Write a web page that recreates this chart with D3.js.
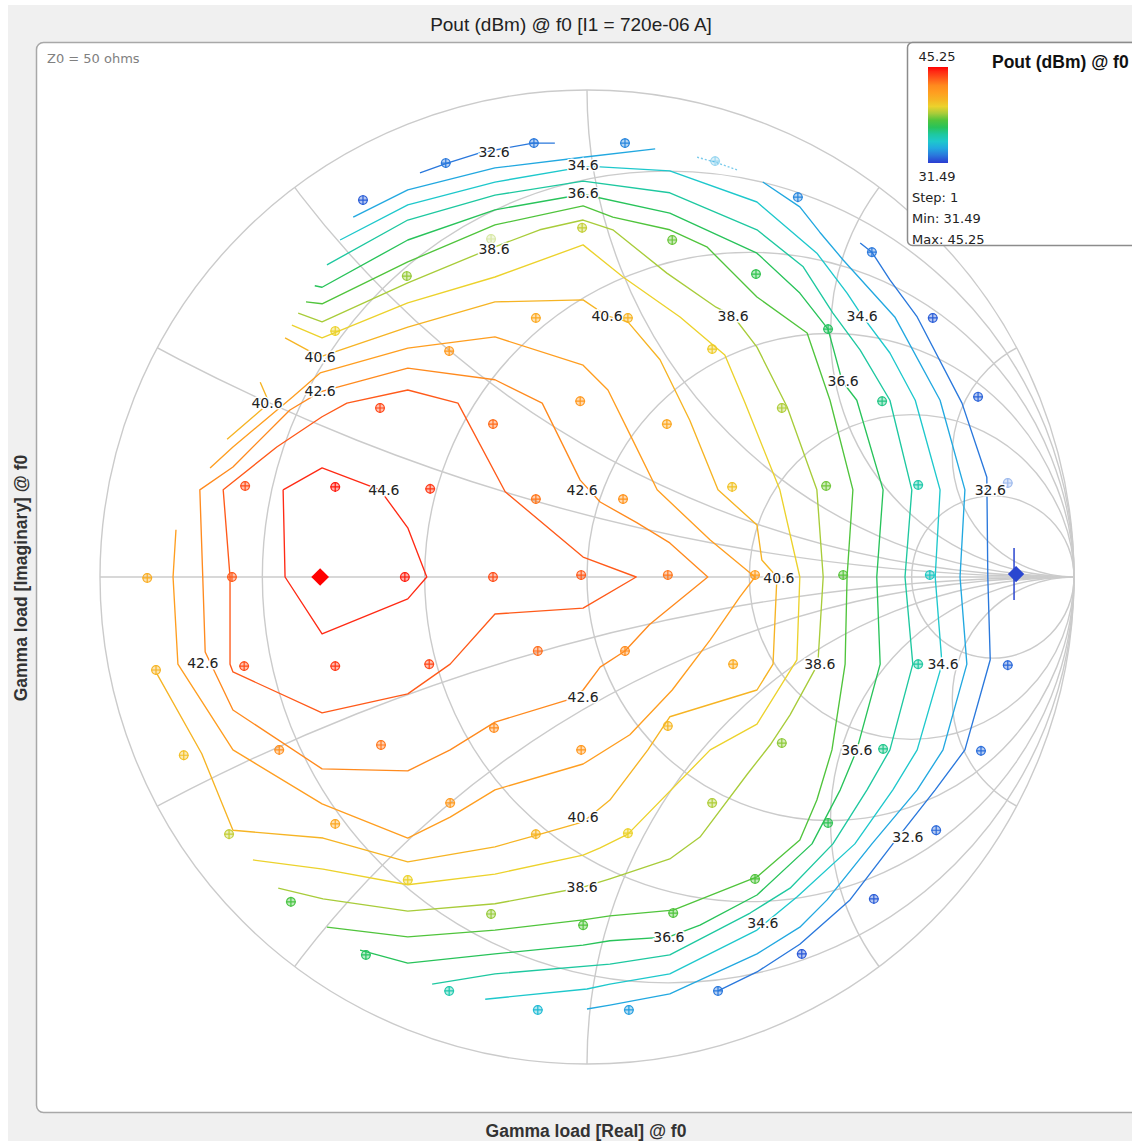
<!DOCTYPE html>
<html><head><meta charset="utf-8">
<script src="https://cdn.jsdelivr.net/npm/d3@7"></script>
<style>
html,body{margin:0;padding:0;background:#fff;}
svg{display:block;}
</style></head><body>
<svg id="chart" width="1132" height="1141"></svg>
<script>
// ---- measured load-pull points on the Gamma plane (re, im) and their output power ----
const pointRe = [-0.290,-0.109,0.078,0.263,-0.460,0.433,-0.197,-0.010,0.175,-0.370,0.347,0.585,-0.517,0.495,0.710,-0.105,0.084,0.257,-0.283,0.400,0.606,0.803,-0.425,-0.014,-0.193,0.164,-0.702,-0.517,-0.322,-0.105,0.074,0.298,0.491,0.680,0.864,-0.903,-0.729,-0.374,-0.193,-0.012,0.166,0.345,0.526,0.704,-0.885,-0.704,-0.517,-0.324,-0.101,0.078,0.300,0.680,0.864,-0.828,-0.632,-0.423,-0.191,-0.012,0.166,0.400,0.608,0.809,-0.735,-0.517,-0.281,-0.105,0.084,0.257,0.495,0.717,-0.368,-0.608,-0.197,-0.008,0.177,0.345,0.589,-0.454,-0.283,-0.101,0.086,0.269,0.441];
const pointIm = [0.850,0.891,0.891,0.854,0.774,0.780,0.694,0.717,0.692,0.618,0.622,0.667,0.505,0.509,0.532,0.532,0.532,0.468,0.464,0.347,0.361,0.370,0.347,0.361,0.314,0.314,0.187,0.185,0.181,0.160,0.160,0.185,0.187,0.189,0.193,-0.002,0,0,0,0.004,0.004,0.004,0.004,0.004,-0.191,-0.183,-0.183,-0.179,-0.152,-0.152,-0.179,-0.179,-0.181,-0.366,-0.355,-0.345,-0.310,-0.355,-0.306,-0.341,-0.353,-0.357,-0.528,-0.507,-0.464,-0.528,-0.526,-0.464,-0.505,-0.520,-0.622,-0.667,-0.692,-0.715,-0.690,-0.620,-0.661,-0.776,-0.850,-0.889,-0.889,-0.850,-0.774];
const pointPout = [32.6,32.6,32.9,33.6,32.1,32.9,38.6,39.0,37.9,38.4,36.9,32.6,39.6,36.5,32.1,41.1,40.6,39.8,41.8,38.7,36.0,32.2,44.0,41.9,43.2,41.2,43.9,44.9,44.3,43.0,42.1,40.1,38.0,35.4,32.3,40.9,43.6,44.8,43.9,43.6,43.0,41.6,37.7,34.8,40.6,43.9,44.3,44.0,43.2,42.5,41.0,35.6,32.3,40.2,42.3,43.0,42.5,41.9,40.5,38.3,35.9,32.4,39.0,41.2,41.8,40.6,39.6,38.7,36.8,32.3,39.6,37.4,38.4,37.6,37.6,37.6,32.1,36.5,35.3,34.2,33.4,32.6,32.0];
// points drawn lighter (outside the interpolated area)
const dimmedPoints = [3, 6, 34];

// optimum (max Pout) and reference load
const maxPoint = [-0.548, 0];
const refPoint = [0.881, 0.006];

// colour bar range
const poutMin = 31.49, poutMax = 45.25, poutStep = 1;
const stopPout = [31.49, 32.6, 33.6, 34.6, 35.6, 36.6, 37.6, 38.6, 39.6, 40.6, 41.6, 42.6, 43.6, 44.6, 45.25];
const stopColor = ["#2a3cd2","#2a78dc","#22a8e0","#1ec8cc","#1ec8a0","#28c35a","#50c43c","#a8cc3a","#ecd22c","#f6b424","#ff9e20","#ff8a1e","#ff5a1a","#ff2a14","#ff0000"];

// iso-Pout contour lines (Gamma coordinates)
const iso446 = [[-0.624,0.179],[-0.544,0.224],[-0.425,0.179],[-0.368,0.101],[-0.329,0],[-0.368,-0.045],[-0.544,-0.117],[-0.620,0],[-0.624,0.179]];
const iso436 = [[-0.733,0],[-0.747,0.179],[-0.637,0.267],[-0.544,0.329],[-0.493,0.357],[-0.368,0.384],[-0.265,0.357],[-0.168,0.175],[-0.008,0.041],[0.101,0],[-0.008,-0.064],[-0.189,-0.076],[-0.281,-0.179],[-0.368,-0.240],[-0.544,-0.279],[-0.727,-0.195],[-0.733,-0.179],[-0.733,0]];
const iso426 = [[-0.789,0],[-0.795,0.179],[-0.727,0.226],[-0.610,0.343],[-0.548,0.380],[-0.368,0.429],[-0.189,0.405],[-0.092,0.357],[-0.014,0.199],[0.027,0.154],[0.103,0.111],[0.170,0.070],[0.248,0],[0.129,-0.097],[0.078,-0.152],[0.027,-0.185],[-0.008,-0.232],[-0.041,-0.253],[-0.189,-0.298],[-0.281,-0.355],[-0.368,-0.398],[-0.544,-0.394],[-0.727,-0.273],[-0.784,-0.154],[-0.789,0]];
const iso416 = [[-0.774,0.224],[-0.727,0.267],[-0.604,0.370],[-0.548,0.419],[-0.368,0.470],[-0.189,0.493],[-0.008,0.435],[0.043,0.384],[0.094,0.281],[0.144,0.179],[0.253,0.076],[0.345,0],[0.314,-0.041],[0.253,-0.129],[0.175,-0.232],[0.088,-0.324],[-0.008,-0.384],[-0.189,-0.437],[-0.281,-0.493],[-0.368,-0.536],[-0.544,-0.466],[-0.727,-0.355],[-0.840,-0.179],[-0.850,0],[-0.844,0.097]];
const iso406 = [[-0.620,0.491],[-0.548,0.452],[-0.368,0.513],[-0.189,0.565],[-0.008,0.569],[0.041,0.536],[0.084,0.524],[0.150,0.446],[0.211,0.322],[0.269,0.179],[0.349,0.107],[0.359,0.035],[0.390,0],[0.386,-0.088],[0.382,-0.179],[0.349,-0.232],[0.170,-0.287],[0.125,-0.355],[0.047,-0.458],[-0.008,-0.503],[-0.103,-0.530],[-0.189,-0.554],[-0.368,-0.585],[-0.542,-0.536],[-0.727,-0.520],[-0.791,-0.363],[-0.883,-0.199]];
const iso406b = [[-0.739,0.283],[-0.667,0.345],[-0.655,0.363],[-0.671,0.400]];
const iso396 = [[-0.606,0.517],[-0.544,0.491],[-0.368,0.563],[-0.189,0.616],[-0.008,0.682],[0.074,0.616],[0.191,0.534],[0.283,0.456],[0.324,0.359],[0.396,0.179],[0.437,0],[0.431,-0.170],[0.349,-0.302],[0.253,-0.355],[0.084,-0.528],[0.027,-0.556],[-0.008,-0.571],[-0.189,-0.610],[-0.368,-0.632],[-0.542,-0.600],[-0.686,-0.581]];
const iso386 = [[-0.593,0.542],[-0.544,0.524],[-0.368,0.604],[-0.189,0.678],[-0.097,0.713],[-0.008,0.733],[0.053,0.713],[0.164,0.624],[0.265,0.554],[0.300,0.536],[0.349,0.472],[0.411,0.349],[0.472,0.179],[0.485,0],[0.474,-0.179],[0.417,-0.283],[0.376,-0.345],[0.329,-0.405],[0.232,-0.534],[0.170,-0.579],[0.047,-0.620],[-0.008,-0.637],[-0.189,-0.671],[-0.368,-0.686],[-0.542,-0.661],[-0.634,-0.639]];
const iso376 = [[-0.577,0.565],[-0.544,0.561],[-0.368,0.647],[-0.189,0.723],[-0.008,0.762],[0.053,0.739],[0.170,0.713],[0.246,0.678],[0.349,0.575],[0.452,0.501],[0.499,0.363],[0.546,0.179],[0.534,0],[0.530,-0.179],[0.503,-0.355],[0.472,-0.458],[0.437,-0.540],[0.349,-0.616],[0.177,-0.684],[0.047,-0.696],[-0.008,-0.704],[-0.189,-0.725],[-0.368,-0.739],[-0.534,-0.719]];
const iso366 = [[-0.559,0.598],[-0.544,0.595],[-0.368,0.692],[-0.189,0.754],[-0.008,0.786],[0.170,0.747],[0.349,0.665],[0.437,0.583],[0.495,0.509],[0.524,0.402],[0.554,0.363],[0.608,0.179],[0.595,0],[0.602,-0.179],[0.554,-0.355],[0.520,-0.437],[0.462,-0.548],[0.349,-0.653],[0.232,-0.715],[0.168,-0.739],[0.047,-0.747],[-0.008,-0.756],[-0.189,-0.774],[-0.368,-0.793],[-0.466,-0.766]];
const iso356 = [[-0.534,0.641],[-0.368,0.733],[-0.189,0.784],[-0.008,0.813],[0.170,0.789],[0.349,0.713],[0.444,0.637],[0.505,0.542],[0.561,0.466],[0.622,0.363],[0.667,0.179],[0.653,0],[0.669,-0.179],[0.622,-0.355],[0.575,-0.437],[0.505,-0.548],[0.417,-0.639],[0.335,-0.690],[0.170,-0.776],[0.047,-0.795],[-0.189,-0.815],[-0.318,-0.836]];
const iso346 = [[-0.507,0.692],[-0.368,0.764],[-0.189,0.811],[-0.008,0.842],[0.027,0.842],[0.170,0.834],[0.349,0.770],[0.472,0.665],[0.534,0.583],[0.565,0.536],[0.622,0.460],[0.674,0.363],[0.725,0.179],[0.715,0],[0.729,-0.179],[0.678,-0.355],[0.628,-0.437],[0.550,-0.548],[0.431,-0.657],[0.363,-0.713],[0.349,-0.725],[0.170,-0.815],[0.047,-0.836],[0,-0.846],[-0.209,-0.867]];
const iso336a = [[-0.480,0.739],[-0.368,0.795],[-0.189,0.840],[-0.008,0.862],[0.140,0.879]];
const iso336b = [[0.226,0.862],[0.263,0.852],[0.308,0.836]];
const iso336c = [[0.361,0.811],[0.437,0.760],[0.478,0.708],[0.526,0.651],[0.632,0.534],[0.725,0.363],[0.776,0.179],[0.766,0],[0.780,-0.179],[0.731,-0.355],[0.678,-0.437],[0.585,-0.548],[0.493,-0.663],[0.437,-0.719],[0.349,-0.774],[0.170,-0.856],[0.047,-0.879],[0,-0.887]];
const iso326a = [[-0.343,0.830],[-0.287,0.850],[-0.220,0.871],[-0.111,0.891],[-0.066,0.891]];
const iso326b = [[0.561,0.686],[0.585,0.667],[0.622,0.610],[0.678,0.534],[0.770,0.357],[0.821,0.205],[0.823,0],[0.828,-0.170],[0.776,-0.355],[0.715,-0.437],[0.628,-0.548],[0.540,-0.663],[0.437,-0.754],[0.349,-0.811],[0.269,-0.850]];
// [level, polyline, faint?]
const isoLines = [
  [44.6, iso446, false], [43.6, iso436, false], [42.6, iso426, false],
  [41.6, iso416, false], [40.6, iso406, false], [40.6, iso406b, false],
  [39.6, iso396, false], [38.6, iso386, false], [37.6, iso376, false],
  [36.6, iso366, false], [35.6, iso356, false], [34.6, iso346, false],
  [33.6, iso336a, false], [33.6, iso336b, true], [33.6, iso336c, false],
  [32.6, iso326a, false], [32.6, iso326b, false]
];

// contour value labels
const labelPout = [44.6,42.6,42.6,42.6,42.6,40.6,40.6,40.6,40.6,40.6,38.6,38.6,38.6,38.6,36.6,36.6,36.6,36.6,34.6,34.6,34.6,34.6,32.6,32.6,32.6];
const labelRe = [-0.417,-0.548,-0.010,-0.008,-0.789,-0.657,-0.548,0.041,0.394,-0.008,-0.191,0.300,0.478,-0.010,-0.008,0.526,0.554,0.168,-0.008,0.565,0.731,0.361,-0.191,0.828,0.659];
const labelIm = [0.179,0.382,0.179,-0.246,-0.177,0.357,0.452,0.536,-0.002,-0.493,0.674,0.536,-0.179,-0.637,0.789,0.403,-0.355,-0.739,0.846,0.536,-0.179,-0.711,0.873,0.179,-0.534];

// Smith chart grid values
const resistanceCircles = [0.2, 0.5, 1, 2, 5];
const reactanceArcs = [0.25, 0.5, 1, 2, 4];

// ---------------------------------------------------------------
const svg = d3.select("#chart");
const W = 1132, H = 1141;
const cx = 587, cy = 577, R = 487;
const x = d3.scaleLinear().domain([-1, 1]).range([cx - R, cx + R]);
const y = d3.scaleLinear().domain([-1, 1]).range([cy + R, cy - R]);
const len = v => x(v) - x(0);
const color = d3.scaleLinear().domain(stopPout).range(stopColor).clamp(true);

const sans = "'Liberation Sans', Arial, sans-serif";
const dv = "'DejaVu Sans', Verdana, sans-serif";

// page background
svg.append("rect").attr("x", 0).attr("y", 0).attr("width", W).attr("height", H).attr("fill", "#ffffff");
svg.append("rect").attr("x", 8).attr("y", 5).attr("width", W - 8).attr("height", H - 5).attr("fill", "#f0f0f0");

svg.append("text").attr("x", 571).attr("y", 31).attr("text-anchor", "middle")
  .attr("font-family", sans).attr("font-size", 19).attr("fill", "#222")
  .text("Pout (dBm) @ f0 [I1 = 720e-06 A]");

// plot panel
svg.append("rect").attr("x", 36.5).attr("y", 42.5).attr("width", 1120).attr("height", 1070)
  .attr("rx", 7).attr("fill", "#fff").attr("stroke", "#a8a8a8").attr("stroke-width", 1.5);

svg.append("text").attr("x", 47).attr("y", 63).attr("font-family", dv).attr("font-size", 13)
  .attr("fill", "#808080").text("Z0 = 50 ohms");

svg.append("text").attr("x", 586).attr("y", 1137).attr("text-anchor", "middle")
  .attr("font-family", sans).attr("font-weight", "bold").attr("font-size", 17.5).attr("fill", "#333")
  .text("Gamma load [Real] @ f0");
svg.append("text").attr("transform", "translate(27,578) rotate(-90)").attr("text-anchor", "middle")
  .attr("font-family", sans).attr("font-weight", "bold").attr("font-size", 17.5).attr("fill", "#333")
  .text("Gamma load [Imaginary] @ f0");

// ---- Smith chart grid ----
const defs = svg.append("defs");
defs.append("clipPath").attr("id", "unit").append("circle")
  .attr("cx", x(0)).attr("cy", y(0)).attr("r", len(1));
const grid = svg.append("g").attr("fill", "none").attr("stroke", "#cbcbcb").attr("stroke-width", 1.4);
grid.append("circle").attr("cx", x(0)).attr("cy", y(0)).attr("r", len(1));
grid.append("line").attr("x1", x(-1)).attr("x2", x(1)).attr("y1", y(0)).attr("y2", y(0));
resistanceCircles.forEach(r => {
  grid.append("circle").attr("cx", x(r / (1 + r))).attr("cy", y(0)).attr("r", len(1 / (1 + r)));
});
const arcs = grid.append("g").attr("clip-path", "url(#unit)");
reactanceArcs.forEach(v => {
  [v, -v].forEach(s => {
    arcs.append("circle").attr("cx", x(1)).attr("cy", y(1 / s)).attr("r", len(1 / v));
  });
});

// ---- contours ----
const line = d3.line().x(d => x(d[0])).y(d => y(d[1]));
svg.append("g").attr("fill", "none").attr("stroke-width", 1.35).attr("stroke-linejoin", "round")
  .selectAll("path").data(isoLines).join("path")
  .attr("stroke", d => color(d[0]))
  .attr("stroke-dasharray", d => d[2] ? "2,2" : null)
  .attr("opacity", d => d[2] ? 0.6 : 1)
  .attr("d", d => line(d[1]));

// ---- measured points ----
const pts = svg.append("g");
pointRe.forEach((re, i) => {
  const px = x(re), py = y(pointIm[i]), c = color(pointPout[i]);
  const g = pts.append("g").attr("transform", `translate(${px},${py})`)
    .attr("opacity", dimmedPoints.includes(i) ? 0.45 : 1);
  g.append("circle").attr("r", 4.3).attr("fill", c).attr("fill-opacity", 0.35)
    .attr("stroke", c).attr("stroke-width", 1.2);
  g.append("path").attr("d", "M-5,0H5M0,-5V5").attr("stroke", c).attr("stroke-width", 1.2);
});

// optimum marker
svg.append("path").attr("transform", `translate(${x(maxPoint[0])},${y(maxPoint[1])})`)
  .attr("d", d3.symbol(d3.symbolDiamond2, 200)()).attr("fill", "#ff0000");
// reference marker
svg.append("line").attr("x1", x(refPoint[0]) - 2).attr("x2", x(refPoint[0]) - 2)
  .attr("y1", y(refPoint[1]) - 26).attr("y2", y(refPoint[1]) + 26).attr("stroke", "#2a46d0").attr("stroke-width", 1.5);
svg.append("path").attr("transform", `translate(${x(refPoint[0])},${y(refPoint[1])})`)
  .attr("d", d3.symbol(d3.symbolDiamond2, 170)()).attr("fill", "#2a46d0");

// ---- contour labels ----
svg.append("g").attr("font-family", dv).attr("font-size", 14).attr("text-anchor", "middle")
  .selectAll("text").data(labelPout).join("text")
  .attr("x", (d, i) => x(labelRe[i])).attr("y", (d, i) => y(labelIm[i]) + 5)
  .attr("fill", "#222").attr("stroke", "#fff").attr("stroke-width", 3).attr("paint-order", "stroke")
  .text(d => d.toFixed(1));

// ---- legend ----
const lg = svg.append("g");
lg.append("rect").attr("x", 907.5).attr("y", 42.5).attr("width", 240).attr("height", 203)
  .attr("rx", 5).attr("fill", "#fff").attr("stroke", "#8c8c8c").attr("stroke-width", 1.5);
const grad = defs.append("linearGradient").attr("id", "bar").attr("x1", 0).attr("x2", 0).attr("y1", 1).attr("y2", 0);
stopPout.forEach((v, i) => grad.append("stop")
  .attr("offset", (v - poutMin) / (poutMax - poutMin)).attr("stop-color", stopColor[i]));
lg.append("rect").attr("x", 928).attr("y", 67).attr("width", 20).attr("height", 96).attr("fill", "url(#bar)");
lg.append("text").attr("x", 937).attr("y", 61).attr("text-anchor", "middle").attr("font-family", dv)
  .attr("font-size", 13).attr("fill", "#222").text(poutMax.toFixed(2));
lg.append("text").attr("x", 937).attr("y", 181).attr("text-anchor", "middle").attr("font-family", dv)
  .attr("font-size", 13).attr("fill", "#222").text(poutMin.toFixed(2));
[["Step: " + poutStep, 202], ["Min: " + poutMin.toFixed(2), 223], ["Max: " + poutMax.toFixed(2), 244]].forEach(t => {
  lg.append("text").attr("x", 912).attr("y", t[1]).attr("font-family", dv).attr("font-size", 13)
    .attr("fill", "#222").text(t[0]);
});
lg.append("text").attr("x", 992).attr("y", 68).attr("font-family", sans).attr("font-weight", "bold")
  .attr("font-size", 17.5).attr("fill", "#111").text("Pout (dBm) @ f0");
</script>
</body></html>
